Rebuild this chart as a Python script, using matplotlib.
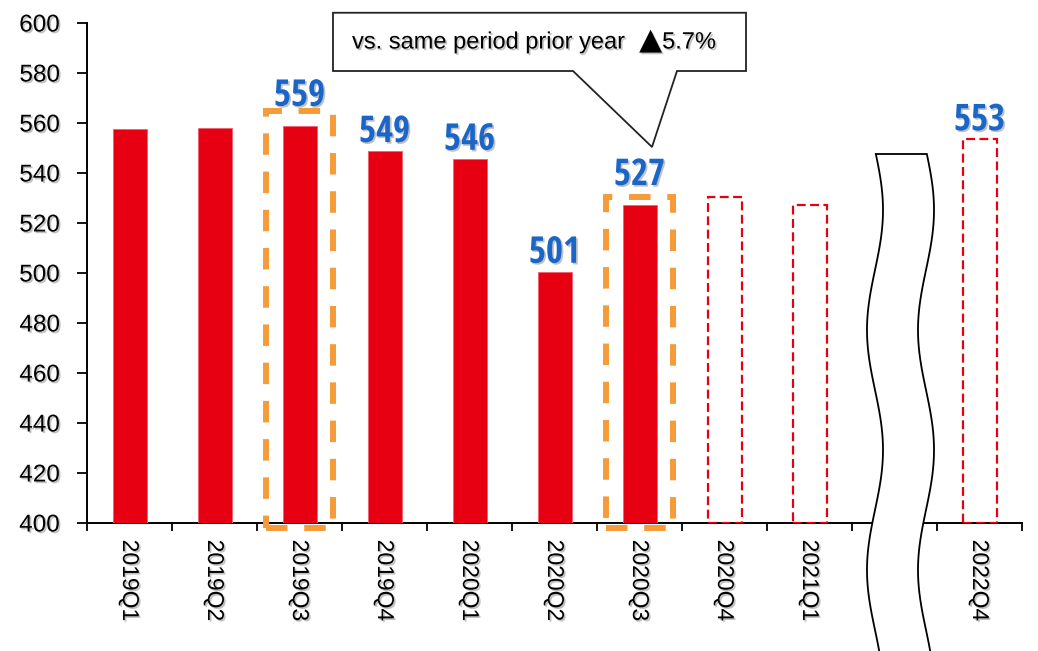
import numpy as np
import matplotlib
matplotlib.use("Agg")
import matplotlib.pyplot as plt
import matplotlib.patheffects as pe
from matplotlib import font_manager as fm
from matplotlib.textpath import TextPath
from matplotlib.patches import Rectangle, Polygon

# ---------------- data ----------------
categories = ['2019Q1', '2019Q2', '2019Q3', '2019Q4', '2020Q1', '2020Q2',
              '2020Q3', '2020Q4', '2021Q1', '', '2022Q4']
values = [557.6, 558.1, 558.9, 548.8, 545.7, 500.5, 527.2, 530.3, 527.3,
          np.nan, 553.5]
forecast = [False, False, False, False, False, False, False, True, True,
            False, True]
value_labels = ['', '', '559', '549', '546', '501', '527', '', '', '', '553']
highlighted = [2, 6]
gap_index = 9
callout_parts = ['vs. same period prior year ', '\u25B2', '5.7%']
y_ticks = [400, 420, 440, 460, 480, 500, 520, 540, 560, 580, 600]

# ---------------- style ----------------
RED = '#E60012'
BLUE = '#1A66C8'
ORANGE = '#F59B3A'

# pick the narrowest-looking bold sans font available for the value labels
target_ratio = 48.0 / 27.0   # width of "559" / digit height in the reference
target_h_px = 27.0
allowed = ('DejaVu', 'Liberation Sans', 'Noto Sans', 'Roboto', 'Open Sans', 'Lato', 'Inter')
best = None
for f in fm.fontManager.ttflist:
    if not f.name.startswith(allowed) or 'CJK' in f.name or 'Mono' in f.name:
        continue
    w = f.weight if isinstance(f.weight, int) else {'bold': 700, 'heavy': 800, 'black': 900,
                                                     'semibold': 600, 'demibold': 600,
                                                     'extra bold': 800}.get(str(f.weight), 400)
    if w < 650 or 'italic' in str(f.style) or 'oblique' in str(f.style):
        continue
    try:
        prop = fm.FontProperties(fname=f.fname)
        ext = TextPath((0, 0), '559', size=100, prop=prop).get_extents()
    except Exception:
        continue
    if ext.height <= 0:
        continue
    r = ext.width / ext.height
    score = abs(r - target_ratio) - 0.0005 * w
    if best is None or score < best[0]:
        best = (score, f.fname, ext.height / 100.0)

if best is not None:
    label_prop = fm.FontProperties(fname=best[1])
    label_size = target_h_px / best[2] * 72 / 100
else:
    label_prop = fm.FontProperties(family='DejaVu Sans', weight='bold')
    label_size = 24
label_prop.set_size(label_size)

plt.rcParams['font.family'] = ['Liberation Sans', 'DejaVu Sans']

shadow = [pe.withSimplePatchShadow(offset=(1.2, -1.2), shadow_rgbFace='#777777', alpha=0.45)]

fig = plt.figure(figsize=(10.38, 6.51), dpi=100)
ax = fig.add_axes([87 / 1038, 1 - 523 / 651, (1022 - 87) / 1038, (523 - 23) / 651])

x = np.arange(len(categories))
bw = 0.4
for i, (v, f) in enumerate(zip(values, forecast)):
    if np.isnan(v):
        continue
    if f:
        ax.bar(i, v - 400, bottom=400, width=bw, facecolor='none', edgecolor=RED,
               linewidth=1.6, linestyle=(0, (4, 2)), zorder=3)
    else:
        ax.bar(i, v - 400, bottom=400, width=bw, color=RED, edgecolor='#F06070',
               linewidth=0.6, zorder=3)

# value labels
for i, (v, lab) in enumerate(zip(values, value_labels)):
    if not lab:
        continue
    off = 20 if i in highlighted else 9
    t = ax.annotate(lab, xy=(i, v), xytext=(0, off * 0.72), textcoords='offset points',
                    ha='center', va='baseline', color=BLUE, zorder=6,
                    annotation_clip=False, fontproperties=label_prop)
    t.set_path_effects(shadow)

# orange highlight boxes
for i in highlighted:
    top = values[i] + 6 if i == 2 else values[i] + 3
    r = Rectangle((i - 0.39, 398.0), 0.78, top - 398.0, facecolor='none',
                  edgecolor=ORANGE, linewidth=4.3, linestyle=(0, (3.6, 2.8)),
                  clip_on=False, zorder=5)
    ax.add_patch(r)

# axes
ax.set_xlim(-0.5, len(categories) - 0.5)
ax.set_ylim(400, 600)
ax.set_yticks(y_ticks)
ax.set_yticklabels([str(t) for t in y_ticks], fontsize=17.5)
ax.set_xticks(np.arange(-0.5, len(categories)), minor=False)
ax.set_xticklabels([''] * (len(categories) + 1))
ax.set_xticks(x, minor=True)
ax.set_xticklabels(categories, minor=True, rotation=270, fontsize=16.5)
ax.tick_params(axis='x', which='major', length=6, width=1.3, direction='out')
ax.tick_params(axis='x', which='minor', length=0, pad=12)
ax.tick_params(axis='y', length=7, width=1.3, direction='out', pad=12.5)
for s in ['top', 'right']:
    ax.spines[s].set_visible(False)
for s in ['left', 'bottom']:
    ax.spines[s].set_linewidth(1.4)
for lab in ax.get_yticklabels() + ax.get_xticklabels(minor=True):
    lab.set_path_effects(shadow)

# callout
i_c = highlighted[1]
tip = (i_c + 0.147, 550.4)
poly = [(2.394, 604.1), (7.253, 604.1), (7.253, 580.8), (i_c + 0.441, 580.8), tip,
        (i_c - 0.782, 580.8), (2.394, 580.8)]
ax.add_patch(Polygon(poly, closed=True, facecolor='white', edgecolor='#222222',
                     linewidth=1.3, clip_on=False, zorder=7))
t1 = ax.text(2.618, 592.2, callout_parts[0], ha='left', va='center',
             fontsize=17, color='black', zorder=8, clip_on=False)
t2 = ax.annotate(callout_parts[1], xy=(1, 0.5), xycoords=t1, xytext=(5, 1.5),
                 textcoords='offset points', ha='left', va='center',
                 fontsize=21.5, family='DejaVu Sans', color='black', zorder=8,
                 annotation_clip=False)
t3 = ax.annotate(callout_parts[2], xy=(1, 0.5), xycoords=t2, xytext=(0, -1.5),
                 textcoords='offset points', ha='left', va='center',
                 fontsize=17, color='black', zorder=8, annotation_clip=False)
for t in (t1, t2, t3):
    t.set_path_effects(shadow)

# axis break (wavy)
px_per_x = 85.0
px_per_y = 2.5
ys_px = np.linspace(154, 700, 200)
wave = 8 * np.sin(2 * np.pi * (ys_px - 150) / 240)
left_px = 875 + wave
right_px = 926 + wave
to_x = lambda p: (p - 129.5) / px_per_x
to_y = lambda p: 400 + (523 - p) / px_per_y
lx, rx, yy = to_x(left_px), to_x(right_px), to_y(ys_px)
verts = list(zip(lx[::-1], yy[::-1])) + list(zip(rx, yy))
ax.add_patch(Polygon(verts, closed=False, facecolor='white', edgecolor='black',
                     linewidth=1.3, clip_on=False, zorder=9))

fig.savefig('out.png', dpi=100)
